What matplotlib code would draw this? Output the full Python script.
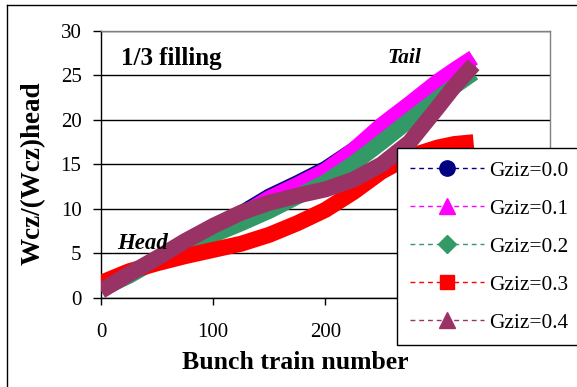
import matplotlib
matplotlib.use("Agg")
import matplotlib.pyplot as plt
from matplotlib.lines import Line2D

plt.rcParams['font.family'] = ['Liberation Serif', 'DejaVu Serif']

# values (bunch train number vs Wcz/(Wcz)head)
bunch = [0, 25, 50, 75, 100, 125, 150, 175, 200, 225, 250, 275, 300, 315, 332]
g00 = [1.0, 2.6, 4.4, 6.0, 7.7, 9.5, 11.4, 12.9, 14.5, 16.6, 19.0, 21.4, 23.8, 25.1, 26.4]
g01 = [1.0, 2.6, 4.4, 6.0, 7.6, 9.3, 11.2, 12.7, 14.3, 16.6, 19.4, 21.8, 24.3, 25.6, 27.0]
g02 = [1.0, 2.5, 4.3, 5.8, 7.1, 8.4, 9.8, 11.4, 13.0, 15.1, 17.5, 20.0, 22.4, 23.8, 25.3]
g03 = [1.7, 3.0, 3.9, 4.7, 5.4, 6.1, 7.1, 8.4, 9.9, 11.9, 14.2, 15.9, 16.9, 17.3, 17.5]
g04 = [0.8, 2.7, 4.5, 6.4, 8.1, 9.6, 10.7, 11.5, 12.2, 13.3, 15.0, 17.5, 21.4, 23.8, 26.2]

labels = ['Gziz=0.0', 'Gziz=0.1', 'Gziz=0.2', 'Gziz=0.3', 'Gziz=0.4']
colors = ['#000080', '#FF00FF', '#339966', '#FF0000', '#993366']
markers = ['o', '^', 'D', 's', '^']
msizes = [11, 11, 9, 10, 11]
xticks = [0, 100, 200, 300, 400]
xticklabels = ['0', '100', '200', '', '']   # 300 and 400 sit behind the legend

fig = plt.figure(figsize=(5.77, 3.87), dpi=100)
ax = fig.add_axes([0.175, 0.230, 0.778, 0.690])

for ys, c in zip([g00, g01, g02, g03, g04], colors):
    ax.plot(bunch, ys, color=c, lw=11.5, solid_capstyle='butt',
            solid_joinstyle='round', zorder=3)

ax.set_xlim(0, 400)
ax.set_ylim(0, 30)
ax.set_xticks(xticks)
ax.set_xticklabels(xticklabels)
ax.set_yticks([0, 5, 10, 15, 20, 25, 30])
ax.tick_params(axis='x', direction='out', length=5, width=1, pad=13, labelsize=15)
ax.tick_params(axis='y', direction='out', length=6, width=1, pad=8, labelsize=15)
ax.yaxis.grid(True, color='black', lw=1)
ax.set_axisbelow(True)
for s in ['top', 'right']:
    ax.spines[s].set_color('#808080')
for s in ['left', 'bottom']:
    ax.spines[s].set_color('black')
for s in ax.spines.values():
    s.set_linewidth(1)
    s.set_zorder(2)

ax.text(17.8, 26.2, '1/3 filling', fontsize=18, fontweight='bold')
ax.text(14.3, 5.5, 'Head', fontsize=16.5, fontweight='bold', style='italic')
ax.text(255, 26.4, 'Tail', fontsize=15.5, fontweight='bold', style='italic')

fig.text(295 / 577, 1 - 369 / 387, 'Bunch train number', fontsize=18.5,
         fontweight='bold', ha='center', va='baseline')
fig.text(33 / 577, 1 - 173 / 387, 'Wcz/(Wcz)head', fontsize=19.5,
         fontweight='bold', ha='center', va='center', rotation=90)

handles = [Line2D([], [], color=c, lw=1, ls=(0, (3.5, 2.8)), marker=m, ms=ms,
                  markerfacecolor=c, markeredgecolor=c)
           for c, m, ms in zip(colors, markers, msizes)]
leg = fig.legend(handles, labels, loc='upper left',
                 bbox_to_anchor=(397 / 577, 1 - 148 / 387), borderaxespad=0,
                 fontsize=15.4, handlelength=3.45, handletextpad=0.28,
                 labelspacing=0.84, borderpad=0.6, fancybox=False,
                 framealpha=1, edgecolor='black')
leg.get_frame().set_linewidth(1)
leg.set_zorder(10)

# outer chart border (left and top edges are the only visible ones)
fig.add_artist(Line2D([7 / 577, 7 / 577], [0, 1 - 4.5 / 387], color='black', lw=1))
fig.add_artist(Line2D([7 / 577, 1], [1 - 4.5 / 387, 1 - 4.5 / 387], color='black', lw=1))

fig.savefig('out.png', dpi=100)
